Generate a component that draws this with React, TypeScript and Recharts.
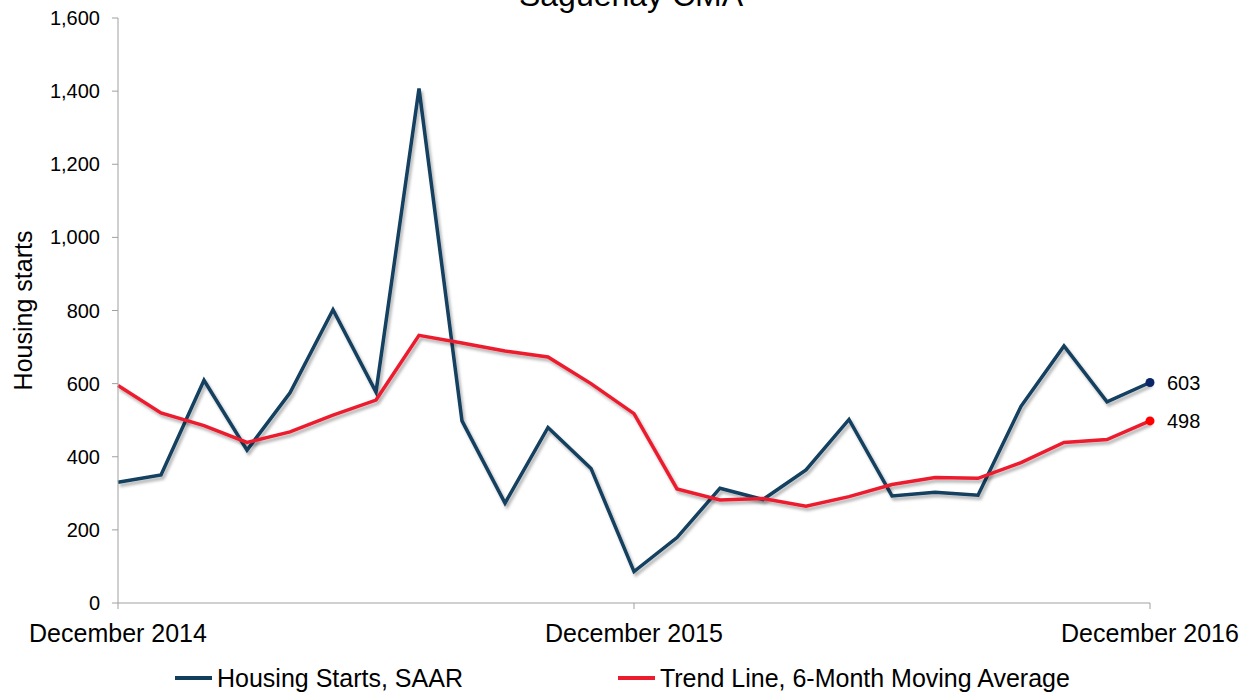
import { LineChart, Line, XAxis, YAxis, Legend } from "recharts";

const months = [
  "December 2014", "January 2015", "February 2015", "March 2015", "April 2015",
  "May 2015", "June 2015", "July 2015", "August 2015", "September 2015",
  "October 2015", "November 2015", "December 2015", "January 2016", "February 2016",
  "March 2016", "April 2016", "May 2016", "June 2016", "July 2016",
  "August 2016", "September 2016", "October 2016", "November 2016", "December 2016",
];
const housingStarts = [
  330, 350, 609, 418, 575, 802, 577, 1407, 498, 273, 480, 368, 86,
  179, 314, 283, 364, 502, 293, 303, 295, 538, 703, 550, 603,
];
const trendLine = [
  595, 520, 485, 439, 468, 514, 555, 732, 711, 689, 673, 600, 518,
  312, 282, 286, 265, 291, 324, 343, 341, 384, 439, 447, 498,
];
const xTicks = ["December 2014", "December 2015", "December 2016"];
const yTicks = [0, 200, 400, 600, 800, 1000, 1200, 1400, 1600];

const BLUE = "#123f5e";
const RED = "#ec1c2e";
const FONT = "'Liberation Sans', Arial, sans-serif";

const data = months.map((m, i) => ({
  month: m,
  starts: housingStarts[i],
  trend: trendLine[i],
}));
const last = data.length - 1;

const endDot = (fill: string) => (props: any) =>
  props.index === last ? (
    <circle key={`d${props.index}`} cx={props.cx} cy={props.cy} r={4.5} fill={fill} />
  ) : (
    <g key={`d${props.index}`} />
  );

const endLabel = (props: any) =>
  props.index === last ? (
    <text
      key={`l${props.index}`}
      x={props.x + 17}
      y={props.y}
      dominantBaseline="central"
      fontSize={20}
      fontFamily={FONT}
      fill="#000"
    >
      {props.value}
    </text>
  ) : (
    <g key={`l${props.index}`} />
  );

function LegendContent() {
  const items = [
    { name: "Housing Starts, SAAR", color: BLUE },
    { name: "Trend Line, 6-Month Moving Average", color: RED },
  ];
  return (
    <div
      style={{
        height: 36,
        display: "flex",
        alignItems: "center",
        paddingLeft: 175,
        gap: 155,
        fontFamily: FONT,
        fontSize: 25,
        color: "#000",
      }}
    >
      {items.map((it) => (
        <div key={it.name} style={{ display: "flex", alignItems: "center" }}>
          <span style={{ width: 37, height: 4, background: it.color, marginRight: 5 }} />
          <span>{it.name}</span>
        </div>
      ))}
    </div>
  );
}

export default function App() {
  return (
    <div
      style={{
        position: "fixed",
        left: 0,
        top: 0,
        width: 1254,
        height: 696,
        overflow: "hidden",
        background: "#fff",
      }}
    >
      <div
        style={{
          position: "absolute",
          top: -21,
          left: 0,
          width: 1262,
          textAlign: "center",
          fontFamily: FONT,
          fontSize: 32,
          lineHeight: "32px",
          color: "#000",
        }}
      >
        Saguenay CMA
      </div>
      <LineChart
        width={1254}
        height={696}
        data={data}
        margin={{ top: 18, right: 104, left: 0, bottom: 0 }}
      >
        <defs>
          <filter id="lineShadow" x="-5%" y="-5%" width="110%" height="120%">
            <feDropShadow dx="2" dy="3" stdDeviation="1.8" floodColor="#000" floodOpacity="0.3" />
          </filter>
        </defs>
        <XAxis
          dataKey="month"
          ticks={xTicks}
          interval={0}
          height={57}
          padding={{ left: 0, right: 0 }}
          stroke="#a0a0a0"
          tickSize={6}
          tickMargin={15}
          tick={{ fill: "#000", fontSize: 25, fontFamily: FONT }}
        />
        <YAxis
          domain={[0, 1600]}
          ticks={yTicks}
          width={118}
          stroke="#a0a0a0"
          tickSize={6}
          tickMargin={12}
          tickFormatter={(v: number) => v.toLocaleString("en-US")}
          tick={{ fill: "#000", fontSize: 20, fontFamily: FONT }}
          label={{
            content: (p: any) => {
              const vb = p.viewBox;
              const cx = vb.x + 23;
              const cy = vb.y + vb.height / 2;
              return (
                <text
                  x={cx}
                  y={cy}
                  transform={`rotate(-90, ${cx}, ${cy})`}
                  textAnchor="middle"
                  dominantBaseline="central"
                  fontSize={25}
                  fontFamily={FONT}
                  fill="#000"
                >
                  Housing starts
                </text>
              );
            },
          }}
        />
        <Legend verticalAlign="bottom" content={() => <LegendContent />} />
        <Line
          type="linear"
          dataKey="starts"
          name="Housing Starts, SAAR"
          stroke={BLUE}
          strokeWidth={3.5}
          filter="url(#lineShadow)"
          dot={endDot("#0b2668")}
          activeDot={false}
          label={endLabel}
          isAnimationActive={false}
        />
        <Line
          type="linear"
          dataKey="trend"
          name="Trend Line, 6-Month Moving Average"
          stroke={RED}
          strokeWidth={3.5}
          filter="url(#lineShadow)"
          dot={endDot("#ff0000")}
          activeDot={false}
          label={endLabel}
          isAnimationActive={false}
        />
      </LineChart>
    </div>
  );
}
